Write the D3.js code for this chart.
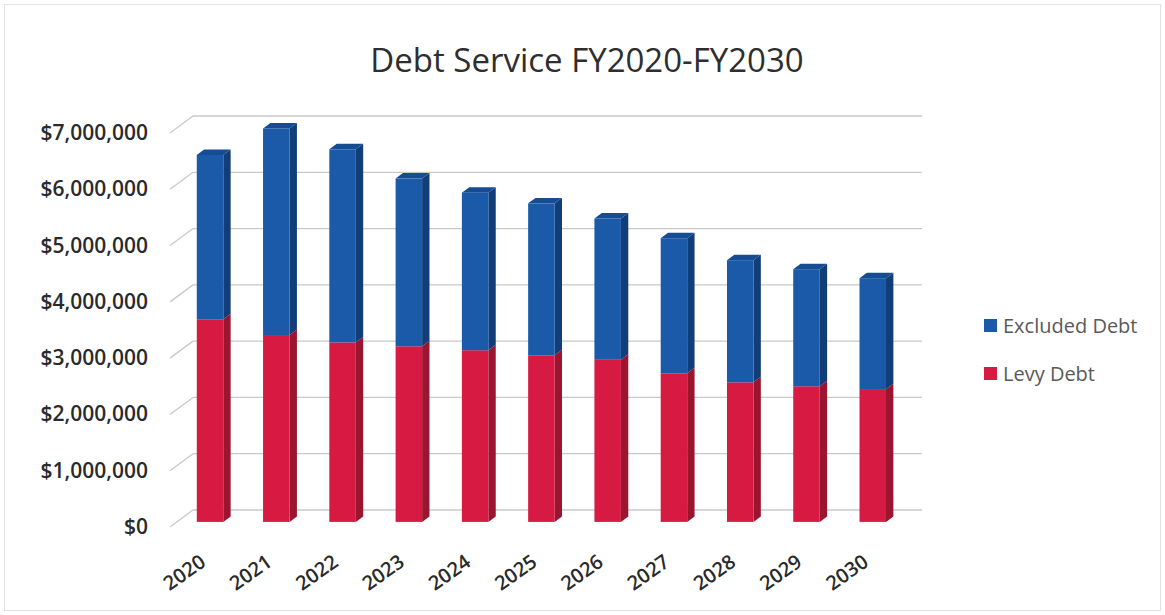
<!DOCTYPE html>
<html>
<head>
<meta charset="utf-8">
<script src="https://cdn.jsdelivr.net/npm/d3@7/dist/d3.min.js"></script>
<style>
  html, body { margin: 0; padding: 0; background: #ffffff; }
  svg { display: block; }
  text { font-family: "Open Sans", "Noto Sans", sans-serif; }
</style>
</head>
<body>
<svg id="chart" width="1165" height="615"></svg>
<script>
// Fiscal years on the category axis
const years = ["2020", "2021", "2022", "2023", "2024", "2025", "2026", "2027", "2028", "2029", "2030"];
// Debt service by type, in dollars
const levyDebt     = [3600000, 3320000, 3190000, 3120000, 3050000, 2960000, 2880000, 2640000, 2480000, 2410000, 2360000];
const excludedDebt = [2920000, 3670000, 3430000, 2980000, 2800000, 2700000, 2510000, 2400000, 2170000, 2080000, 1970000];
// Value axis ticks
const yTicks = [0, 1000000, 2000000, 3000000, 4000000, 5000000, 6000000, 7000000];
const seriesNames = ["Excluded Debt", "Levy Debt"];

const svg = d3.select("#chart");
const W = 1165, H = 615;

// faint frame around the chart
svg.append("rect")
  .attr("x", 4.5).attr("y", 4.5).attr("width", W - 9).attr("height", H - 9)
  .attr("fill", "none").attr("stroke", "#e2e2e2").attr("stroke-width", 1);

// Plot geometry: front plane of the floor and a depth offset for the 3D look
const plotLeft = 170, plotRight = 899;
const depthX = 23, depthY = -17;

const y = d3.scaleLinear().domain([0, 7000000]).range([527, 133]);
const x = d3.scaleBand().domain(years).range([plotLeft, plotRight])
  .paddingInner(0.6).paddingOuter(0.3);

// project a point at a given depth (0 = front, 1 = back wall)
const px = (xv, d) => xv + depthX * d;
const py = (v, d) => y(v) + depthY * d;

// Back-wall gridlines and the left side-wall strokes
const grid = svg.append("g").attr("stroke", "#c9c9c9").attr("stroke-width", 1.3).attr("fill", "none");
yTicks.forEach(v => {
  grid.append("line")
    .attr("x1", px(plotLeft, 1)).attr("y1", py(v, 1))
    .attr("x2", px(plotRight, 1)).attr("y2", py(v, 1));
  grid.append("line")
    .attr("x1", px(plotLeft, 0)).attr("y1", py(v, 0))
    .attr("x2", px(plotLeft, 1)).attr("y2", py(v, 1));
});

// Y axis labels
const yLab = svg.append("g");
yTicks.forEach(v => {
  yLab.append("text")
    .attr("x", 148).attr("y", y(v) + 7)
    .attr("text-anchor", "end")
    .attr("font-size", 21).attr("font-weight", 600)
    .attr("fill", "#2a2a2a")
    .text(d3.format("$,.0f")(v));
});

// Stack the two series: levy at the bottom, excluded on top
const rows = years.map((yr, i) => ({ year: yr, levy: levyDebt[i], excluded: excludedDebt[i] }));
const stack = d3.stack().keys(["levy", "excluded"])(rows);

const colors = {
  levy:     { front: "#d71a42", side: "#9b1530", top: "#b3173a" },
  excluded: { front: "#1a5aa9", side: "#113d78", top: "#164c92" }
};

// bar depth range
const d0 = 0.3, d1 = 0.62;
const sideDx = depthX * (d1 - d0), sideDy = depthY * (d1 - d0);

const bars = svg.append("g");
stack.forEach((layer, li) => {
  const key = layer.key;
  const c = colors[key];
  const isTop = li === stack.length - 1;
  layer.forEach(seg => {
    const yr = seg.data.year;
    const fx = px(x(yr), d0);
    const bw = x.bandwidth();
    const yTop = py(seg[1], d0);
    const yBot = py(seg[0], d0);
    const g = bars.append("g");
    // right side face
    g.append("polygon")
      .attr("points", [
        [fx + bw, yTop], [fx + bw + sideDx, yTop + sideDy],
        [fx + bw + sideDx, yBot + sideDy], [fx + bw, yBot]
      ].map(p => p.join(",")).join(" "))
      .attr("fill", c.side);
    // top face
    if (isTop) {
      g.append("polygon")
        .attr("points", [
          [fx, yTop], [fx + sideDx, yTop + sideDy],
          [fx + bw + sideDx, yTop + sideDy], [fx + bw, yTop]
        ].map(p => p.join(",")).join(" "))
        .attr("fill", c.top);
    }
    // front face
    g.append("rect")
      .attr("x", fx).attr("y", yTop)
      .attr("width", bw).attr("height", yBot - yTop)
      .attr("fill", c.front);
  });
});

// X axis labels, rotated
const xLab = svg.append("g");
years.forEach(yr => {
  const cx = px(x(yr), d0) + x.bandwidth() / 2;
  xLab.append("text")
    .attr("transform", `translate(${cx - 3},${565}) rotate(-35)`)
    .attr("text-anchor", "end")
    .attr("font-size", 20).attr("font-weight", 600)
    .attr("fill", "#2a2a2a")
    .text(yr);
});

// Title
svg.append("text")
  .attr("x", 587).attr("y", 72)
  .attr("text-anchor", "middle")
  .attr("font-size", 33)
  .attr("fill", "#2e2e2e")
  .text("Debt Service FY2020-FY2030");

// Legend
const legend = svg.append("g");
const legendColors = { "Excluded Debt": colors.excluded.front, "Levy Debt": colors.levy.front };
seriesNames.forEach((name, i) => {
  const ly = 333 + i * 48;
  legend.append("rect")
    .attr("x", 984).attr("y", ly - 14)
    .attr("width", 13).attr("height", 13)
    .attr("fill", legendColors[name]);
  legend.append("text")
    .attr("x", 1003).attr("y", ly)
    .attr("font-size", 20)
    .attr("fill", "#595959")
    .text(name);
});
</script>
</body>
</html>
